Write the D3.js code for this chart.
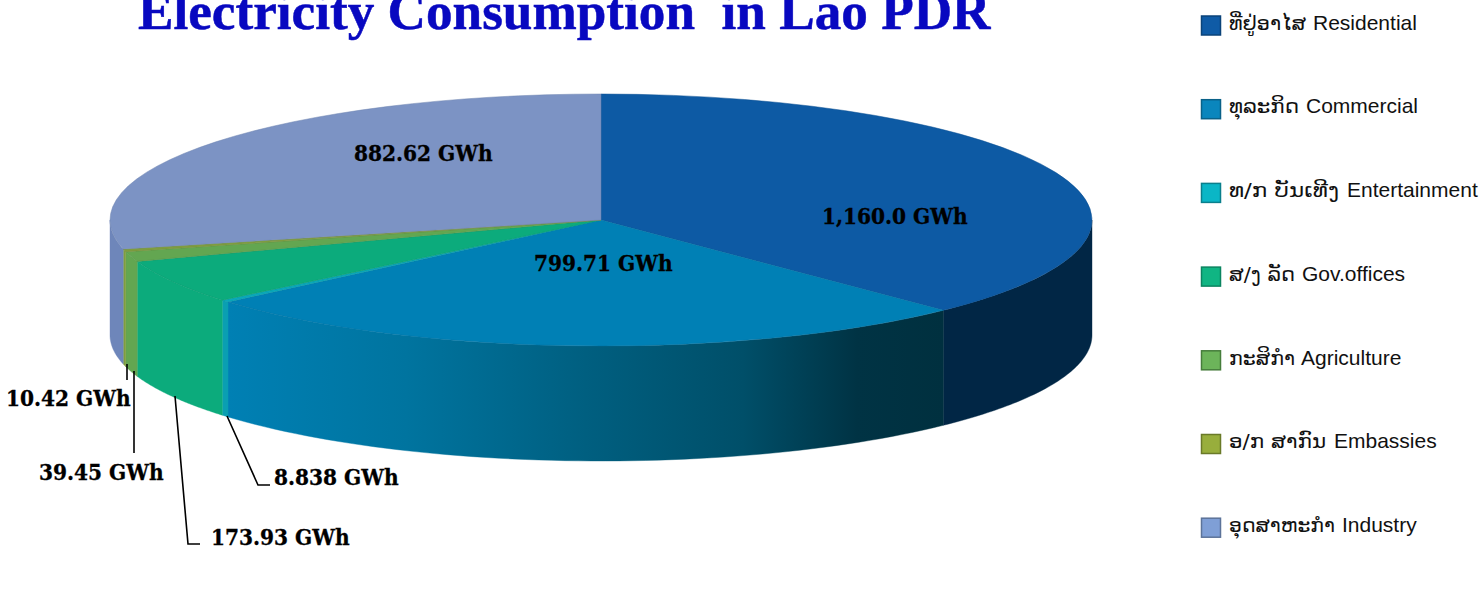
<!DOCTYPE html>
<html><head><meta charset="utf-8">
<script src="https://cdn.jsdelivr.net/npm/d3@7"></script>
<style>html,body{margin:0;padding:0;background:#fff;overflow:hidden}svg{display:block}</style>
</head><body><div id="c"></div>
<script>
const categories = ["Residential","Commercial","Entertainment","Gov.offices","Agriculture","Embassies","Industry"];
const laoNames = ["ທີ່ຢູ່ອາໄສ","ທຸລະກິດ","ທ/ກ ບັນເທີງ","ສ/ງ ລັດ","ກະສິກຳ","ອ/ກ ສາກົນ","ອຸດສາຫະກຳ"];
const values = [1160.0,799.71,8.838,173.93,39.45,10.42,882.62];
const valueLabels = ["1,160.0 GWh","799.71 GWh","8.838 GWh","173.93 GWh","39.45 GWh","10.42 GWh","882.62 GWh"];
const topColors = ["#0d5aa4","#0080b5","#0aa8ba","#0cab7c","#63a651","#7f9d3f","#7c93c4"];
const sideColors = ["#012645","url(#comm)","#0a9fb2","#0cab7c","#63a651","#7f9d3f","#6e86ba"];
const legendFill = ["#0f5ba6","#0a86bd","#0ab6c6","#10b583","#6cb45a","#98ae3c","#7f9fd6"];
const legendStroke = ["#0b4379","#0a6188","#0a7f8c","#0b8460","#467d3b","#6a7a28","#5c7399"];
const laoWidth = [77,70,110,66,66,97,106];
const latinX = [84,77,118,73,72,105,113];

const W=1479,H=595,cx=601,cy=220,rx=491,ry=126,depth=115;
const svg=d3.select("#c").append("svg").attr("width",W).attr("height",H);
const grad=svg.append("defs").append("linearGradient").attr("id","comm")
  .attr("gradientUnits","userSpaceOnUse").attr("x1",228).attr("x2",943).attr("y1",0).attr("y2",0);
[[0,"#0080b4"],[.25,"#00749f"],[.5,"#005f80"],[.72,"#004f69"],[.88,"#003344"],[1,"#00303f"]]
  .forEach(s=>grad.append("stop").attr("offset",s[0]).attr("stop-color",s[1]));

const pie=d3.pie().sort(null).value(d=>d)(values);
const ex=a=>cx+rx*Math.sin(a), ey=a=>cy-ry*Math.cos(a);
const front0=Math.PI/2, front1=Math.PI*1.5;
const sideLine=d3.line();
const sidePath=(a0,a1)=>{
  const s=Math.max(a0,front0), e=Math.min(a1,front1);
  if(s>=e) return null;
  const ang=d3.range(0,61).map(i=>s+(e-s)*i/60);
  const pts=ang.map(a=>[ex(a),ey(a)]).concat(ang.slice().reverse().map(a=>[ex(a),ey(a)+depth]));
  return sideLine(pts)+"Z";
};
const sides=svg.append("g");
pie.forEach((p,i)=>{
  const d=sidePath(p.startAngle,p.endAngle);
  if(d) sides.append("path").attr("d",d).attr("fill",sideColors[i]).attr("stroke",sideColors[i]).attr("stroke-width",.4);
});
const arc=d3.arc().innerRadius(0).outerRadius(rx);
const topFace=svg.append("g").attr("transform",`translate(${cx},${cy}) scale(1,${ry/rx})`);
topFace.selectAll("path").data(pie).join("path").attr("d",arc)
  .attr("fill",(d,i)=>topColors[i])
  .attr("stroke",(d,i)=>d3.color(topColors[i]).darker(.3))
  .attr("stroke-width",.5).attr("vector-effect","non-scaling-stroke");

// title
svg.append("text").attr("x",138).attr("y",29)
  .attr("font-family","'Liberation Serif',serif").attr("font-weight","bold").attr("font-size",53.2)
  .attr("fill","#0808c0").attr("stroke","#0808c0").attr("stroke-width",.5).style("white-space","pre")
  .text("Electricity Consumption  in Lao PDR");

// value labels and leaders
const labelPos=[[822,224],[534,271],[274,485],[211,545],[39,480],[6,406],[354,161]];
const leaders=[null,null,[[227,416],[258,485],[270,485]],[[175,396],[188,544],[200,544]],[[134,371],[134,453]],[[127,364],[127,380]],null];
leaders.forEach(l=>{ if(l) svg.append("path").attr("d",d3.line()(l)).attr("fill","none").attr("stroke","#000").attr("stroke-width",1.6); });
svg.append("g").selectAll("text").data(valueLabels).join("text")
  .attr("x",(d,i)=>labelPos[i][0]).attr("y",(d,i)=>labelPos[i][1])
  .attr("font-family","'DejaVu Serif Condensed','DejaVu Serif',serif").style("font-stretch","condensed")
  .attr("font-weight","bold").attr("font-size",22.4).attr("fill","#000").attr("stroke","#000").attr("stroke-width",.3)
  .text(d=>d);

// legend
const ly=d3.scalePoint().domain(categories).range([25.5,527.7]);
const lg=svg.append("g").selectAll("g").data(categories).join("g").attr("transform",d=>`translate(1201,${ly(d)})`);
lg.append("rect").attr("x",.5).attr("y",-9.5).attr("width",19).attr("height",19)
  .attr("fill",(d,i)=>legendFill[i]).attr("stroke",(d,i)=>legendStroke[i]).attr("stroke-width",1.5);
lg.append("text").attr("x",28).attr("y",4.2)
  .attr("font-family","'DejaVu Sans',sans-serif").attr("font-size",19).attr("fill","#111")
  .attr("textLength",(d,i)=>laoWidth[i]).attr("lengthAdjust","spacingAndGlyphs")
  .text((d,i)=>laoNames[i]);
lg.append("text").attr("x",(d,i)=>28+latinX[i]).attr("y",4.2)
  .attr("font-family","'Liberation Sans',sans-serif").attr("font-size",21).attr("fill","#111")
  .text(d=>d);
</script></body></html>
